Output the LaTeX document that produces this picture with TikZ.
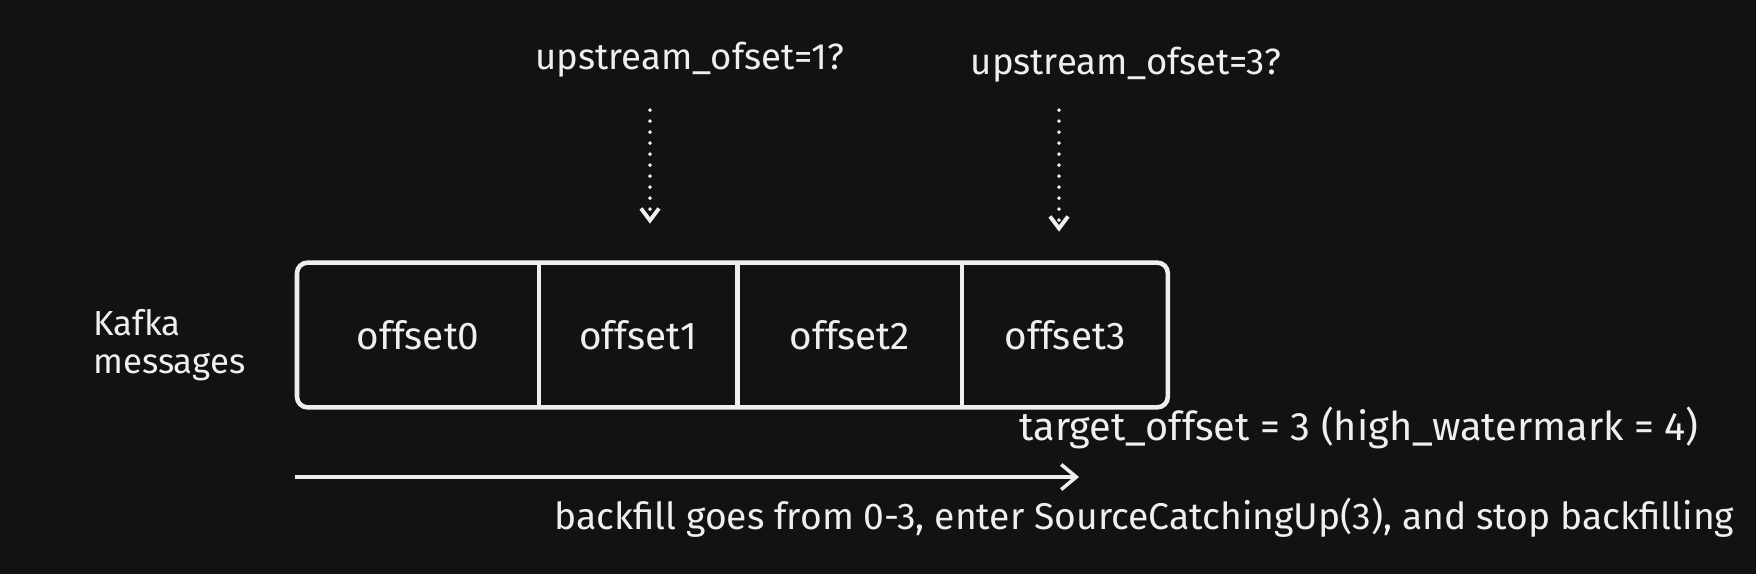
\documentclass[tikz,border=0pt]{standalone}
\usepackage{fontspec}
\setmainfont{Fira Sans}
\usetikzlibrary{positioning,arrows.meta,fit}
\definecolor{inkbg}{HTML}{121214}
\definecolor{chalk}{HTML}{EFEFEF}
\tikzset{
  cell/.style={rectangle, minimum height=2.88cm, inner sep=0pt, text=chalk,
               font=\fontsize{22}{26}\selectfont},
  msgbox/.style={rectangle, rounded corners=6pt, draw=chalk, line width=2.6pt, inner sep=0pt},
  sep/.style={draw=chalk, line width=2.4pt},
  note/.style={text=chalk, inner sep=0pt, font=\fontsize{#1}{22}\selectfont},
  note/.default=19,
  dotarr/.style={-{Straight Barb[length=2.4mm,width=3.6mm]}, draw=chalk, line width=2.2pt,
                 line cap=round, dash pattern=on 0pt off 2.2mm},
  ar/.style={-{Straight Barb[length=3mm,width=5mm]}, draw=chalk, line width=2pt},
}
\begin{document}
\begin{tikzpicture}[x=0.2mm, y=-0.2mm, node distance=0pt]
  \fill[inkbg] (0,0) rectangle (1756,574);
  \useasboundingbox (0,0) rectangle (1756,574);

  \node[cell, minimum width=4.82cm, anchor=west] (c0) at (297,335) {offset0};
  \node[cell, minimum width=3.96cm, right=of c0] (c1) {offset1};
  \node[cell, minimum width=4.48cm, right=of c1] (c2) {offset2};
  \node[cell, minimum width=4.10cm, right=of c2] (c3) {offset3};
  \node[msgbox, fit=(c0)(c3)] (msgs) {};
  \draw[sep] (c0.north east) -- (c0.south east);
  \draw[sep] (c1.north east) -- (c1.south east);
  \draw[sep] (c2.north east) -- (c2.south east);

  \node[note=19.8, anchor=west, align=left] (kafka) at (93,345) {Kafka\\messages};
  \node[note=20.8, anchor=base] (up1) at (690,70) {upstream\_ofset=1?};
  \node[note=20.8, anchor=base] (up3) at (1126,75) {upstream\_ofset=3?};
  \node[note=22.6, anchor=base west] (tgt) at (1019,440) {target\_offset = 3 (high\_watermark = 4)};
  \node[note=21.2, anchor=base west] (bf) at (554,529) {backfill goes from 0-3, enter SourceCatchingUp(3), and stop backfilling};

  \coordinate (p1) at (650,0);
  \coordinate (p3) at (1059,0);
  \coordinate (bfend) at (1079,477);
  \draw[dotarr, shorten <=0.64cm, shorten >=0.78cm] (up1.south -| p1) -- (c1.north -| p1);
  \draw[dotarr, shorten <=0.54cm, shorten >=0.62cm] (up3.south -| p3) -- (c3.north -| p3);
  \draw[ar] (msgs.south west |- bfend) -- (bfend);
\end{tikzpicture}
\end{document}
